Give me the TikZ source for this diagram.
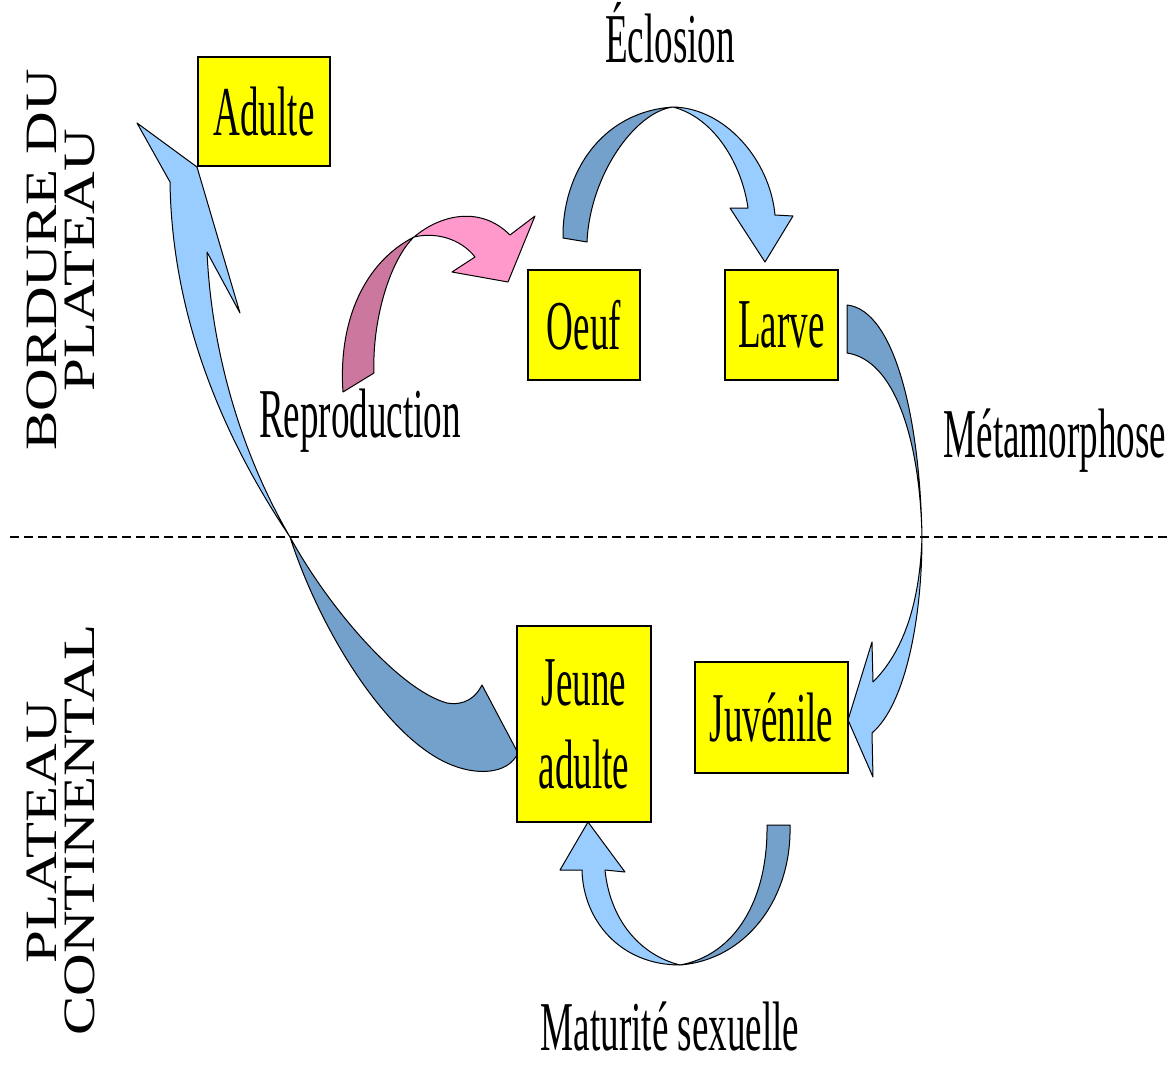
\documentclass[tikz,border=0pt]{standalone}
\usepackage{fontspec}
\setmainfont{Liberation Serif}
\usepackage{graphicx}
\usetikzlibrary{positioning}
\tikzstyle{canvas} = [x = 0.5pt, y = -0.5pt]
\definecolor{boxYellow}{RGB}{255,255,0}
\definecolor{frontBlue}{RGB}{153,204,255}
\definecolor{backBlue}{RGB}{116,160,204}
\definecolor{frontPink}{RGB}{255,153,204}
\definecolor{backPink}{RGB}{204,119,158}
\tikzstyle{stageBox} = [draw=black, fill=boxYellow, line width=0.8pt, inner sep=0pt, align=center, font=\stageFont]
\tikzstyle{stepLabel} = [anchor=base, inner sep=0pt, font=\stageFont]
\tikzstyle{zoneLabel} = [rotate=90, inner sep=0pt, font=\zoneFont]
\tikzstyle{zoneLine} = [color=black, line width=0.8pt, dash pattern=on 4.5pt off 2.5pt]
\tikzstyle{frontBlueSide} = [fill=frontBlue, draw=black, line width=0.5pt, line join=round]
\tikzstyle{backBlueSide} = [fill=backBlue, draw=black, line width=0.5pt, line join=round]
\tikzstyle{frontPinkSide} = [fill=frontPink, draw=black, line width=0.5pt, line join=round]
\tikzstyle{backPinkSide} = [fill=backPink, draw=black, line width=0.5pt, line join=round]
\newcommand{\stageFont}{\fontsize{35}{41.5}\selectfont}
\newcommand{\zoneFont}{\fontsize{29.5}{32}\selectfont}
\newcommand{\narrowText}[1]{\scalebox{0.53}[1]{#1}}
\newcommand{\zoneText}[1]{\scalebox{1}[0.76]{#1}}
\newcommand{\stage}[6]{\node [stageBox, minimum width=#4, minimum height=#5] (#1) at (#2,#3) {#6};}
\newcommand{\zone}[4]{\node [zoneLabel] (#1) at (#2,#3) {\zoneText{#4}};}

\begin{document}
\begin{tikzpicture}[canvas]
  \useasboundingbox (0,0) rectangle (1175,1066);
  \coordinate (zoneLeft) at (10,537);
  \coordinate (zoneRight) at (1170,537);
  \draw [zoneLine] (zoneLeft) -- (zoneRight);

  \zone{bordureLine}{42}{260}{BORDURE DU}
  \zone{bordurePlateauLine}{80}{260}{PLATEAU}
  \zone{plateauLine}{42}{832}{PLATEAU}
  \zone{continentalLine}{80}{830}{CONTINENTAL}

  \filldraw [backPinkSide] (343,392) .. controls (338,320) and (365,262) .. (414,237)
    .. controls (390,260) and (372,320) .. (374,373) -- cycle;
  \filldraw [frontPinkSide] (414,237) .. controls (440,215) and (480,205) .. (510,235)
    -- (535,216) -- (508,282) -- (452,272) -- (475,257)
    .. controls (460,238) and (435,232) .. (414,237) -- cycle;

  \filldraw [backBlueSide] (563,238) .. controls (562,175) and (600,112) .. (673,107)
    .. controls (635,112) and (590,175) .. (587,242) -- cycle;
  \filldraw [frontBlueSide] (673,107) .. controls (725,108) and (770,160) .. (775,215)
    -- (793,216) -- (765,262) -- (730,208) -- (748,208)
    .. controls (742,165) and (715,118) .. (673,107) -- cycle;

  \filldraw [backBlueSide] (847,305) .. controls (895,310) and (920,420) .. (922,537)
    .. controls (920,440) and (895,360) .. (847,353) -- cycle;
  \filldraw [frontBlueSide] (922,537) .. controls (922,620) and (905,705) .. (872,733)
    -- (873,777) -- (848,720) -- (872,642) -- (873,682)
    .. controls (905,650) and (920,600) .. (922,537) -- cycle;

  \filldraw [backBlueSide] (790,825) .. controls (792,900) and (745,960) .. (680,965)
    .. controls (735,955) and (768,900) .. (767,825) -- cycle;
  \filldraw [frontBlueSide] (680,965) .. controls (620,965) and (583,920) .. (582,870)
    -- (560,870) -- (588,822) -- (625,872) -- (605,870)
    .. controls (610,920) and (640,955) .. (680,965) -- cycle;

  \filldraw [backBlueSide] (290,537) .. controls (330,610) and (400,690) .. (447,703)
    .. controls (465,706) and (476,697) .. (482,685) -- (518,753)
    .. controls (508,775) and (475,776) .. (447,763)
    .. controls (385,735) and (320,630) .. (290,537) -- cycle;
  \filldraw [frontBlueSide] (170,182) -- (137,123) -- (197,167) -- (240,313) -- (207,252)
    .. controls (212,360) and (245,460) .. (290,537)
    .. controls (225,440) and (172,320) .. (170,182) -- cycle;

  \stage{adulteBox}{264}{111.5}{66pt}{54.5pt}{\narrowText{Adulte}}
  \stage{oeufBox}{584}{325}{56pt}{55pt}{\narrowText{Oeuf}}
  \stage{larveBox}{781.5}{325}{56.5pt}{55pt}{\narrowText{Larve}}
  \stage{jeuneAdulteBox}{584}{724}{67pt}{98pt}{\narrowText{Jeune}\\\narrowText{adulte}}
  \stage{juvenileBox}{771.5}{717.5}{76.5pt}{55.5pt}{\narrowText{Juvénile}}

  \node [stepLabel] (eclosionLabel) at (670,62) {\narrowText{Éclosion}};
  \node [stepLabel] (reproductionLabel) at (360,437) {\narrowText{Reproduction}};
  \node [stepLabel] (metamorphoseLabel) at (1055,457) {\narrowText{Métamorphose}};
  \node [stepLabel] (maturiteLabel) at (670,1050) {\narrowText{Maturité sexuelle}};
\end{tikzpicture}
\end{document}
